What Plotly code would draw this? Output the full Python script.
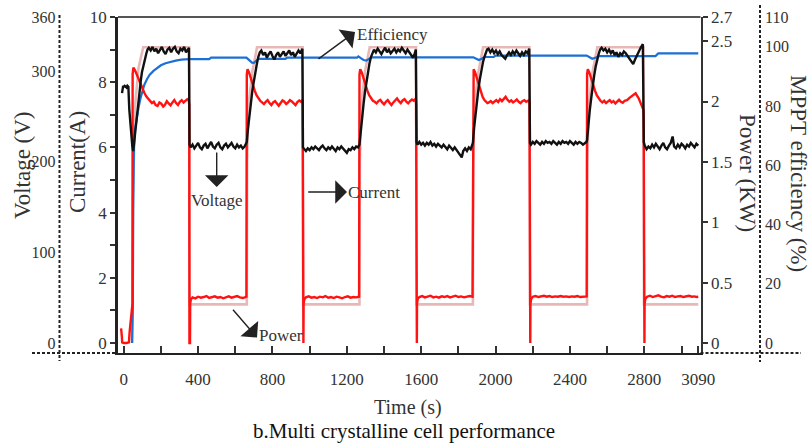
import plotly.graph_objects as go

# ---------------- data ----------------
# Time axis
x_tickvals = [0, 200, 400, 600, 800, 1000, 1200, 1400, 1600, 1800, 2000, 2200, 2400, 2600, 2800, 3000, 3090]
x_ticktext = ["0", "", "400", "", "800", "", "1200", "", "1600", "", "2000", "", "2400", "", "2800", "", "3090"]

# Voltage (V) - black
volt_t = [
    -9, -7, -3, 0, 5, 10, 15, 20, 25, 30, 38, 46, 51,
    56, 62, 68, 74, 80, 86, 92, 98, 104, 110, 116, 122, 128,
    135, 145, 155, 165, 175, 185, 195, 205, 215, 225, 235, 245, 255, 265, 275, 285, 295, 305, 315, 325, 335, 345, 351,
    354, 360, 370, 380, 390, 400, 410, 420, 430, 440, 450, 460, 470, 480, 490, 500, 510, 520, 530, 540, 550, 560, 570, 580, 590, 600, 610, 620, 630, 640, 650, 658, 662,
    668, 676, 684, 692, 700, 708, 716, 724, 732,
    740, 750, 760, 770, 780, 790, 800, 810, 820, 830, 840, 850, 860, 870, 880, 890, 900, 910, 920, 930, 940, 950, 961,
    964, 970, 980, 990, 1000, 1010, 1020, 1030, 1040, 1050, 1060, 1070, 1080, 1090, 1100, 1110, 1120, 1130, 1140, 1150, 1160, 1170, 1180, 1190, 1200, 1210, 1220, 1230, 1240, 1250, 1260, 1268,
    1274, 1282, 1290, 1298, 1306, 1314, 1322, 1330, 1338,
    1346, 1356, 1366, 1376, 1386, 1396, 1406, 1416, 1426, 1436, 1446, 1456, 1466, 1476, 1486, 1496, 1506, 1516, 1526, 1536, 1546, 1556, 1566, 1571,
    1575, 1580, 1590, 1600, 1610, 1620, 1630, 1640, 1650, 1660, 1670, 1680, 1690, 1700, 1710, 1720, 1730, 1740, 1750, 1760, 1770, 1780, 1790, 1800, 1810, 1818, 1826, 1836, 1846, 1856, 1866, 1874, 1878,
    1884, 1892, 1900, 1908, 1916, 1924, 1932, 1940, 1948, 1954,
    1962, 1972, 1982, 1992, 2002, 2012, 2022, 2032, 2042, 2052, 2062, 2072, 2082, 2092, 2102, 2112, 2122, 2132, 2142, 2152, 2162, 2172, 2181,
    2185, 2190, 2200, 2210, 2220, 2230, 2240, 2250, 2260, 2270, 2280, 2290, 2300, 2310, 2320, 2330, 2340, 2350, 2360, 2370, 2380, 2390, 2400, 2410, 2420, 2430, 2440, 2450, 2460, 2470, 2480, 2488, 2492,
    2498, 2506, 2514, 2522, 2530, 2538, 2546, 2554, 2562,
    2570, 2580, 2590, 2600, 2610, 2620, 2630, 2640, 2650, 2660, 2670, 2680, 2690, 2700, 2710, 2720, 2730, 2740, 2750, 2760, 2770, 2780, 2792,
    2797, 2802, 2812, 2822, 2832, 2842, 2852, 2862, 2872, 2882, 2892, 2902, 2912, 2922, 2932, 2942, 2952, 2960, 2970, 2980, 2990, 3000, 3010, 3020, 3030, 3040, 3050, 3060, 3070, 3080, 3090,
]
volt_v = [
    276, 284, 284, 283, 284, 283, 282, 284, 283, 258, 232, 218, 212,
    222, 238, 249, 262, 271, 283, 290, 299, 305, 311, 316, 320, 324,
    326, 323, 327, 322, 325, 320, 324, 327, 322, 319, 324, 326, 321, 325, 327, 322, 320, 325, 323, 327, 321, 325, 326,
    219, 216, 219, 215, 218, 221, 216, 214, 218, 220, 215, 218, 222, 217, 215, 219, 221, 216, 214, 218, 220, 216, 219, 221, 217, 215, 219, 216, 218, 215, 217, 220, 222,
    236, 252, 266, 279, 289, 300, 308, 316, 321,
    323, 318, 321, 315, 319, 322, 317, 313, 318, 321, 316, 319, 322, 317, 320, 323, 318, 321, 316, 320, 323, 320, 325,
    216, 214, 212, 215, 213, 216, 214, 217, 215, 213, 216, 218, 215, 213, 216, 214, 217, 215, 212, 216, 214, 217, 215, 212, 210, 214, 213, 216, 214, 217, 216, 219,
    234, 250, 264, 278, 290, 300, 309, 316, 321,
    324, 321, 325, 322, 319, 323, 326, 321, 324, 320, 323, 325, 321, 324, 322, 326, 323, 320, 324, 321, 317, 315, 320, 324,
    222, 219, 222, 219, 221, 218, 221, 219, 222, 218, 220, 217, 220, 218, 216, 219, 217, 214, 218, 215, 213, 216, 213, 210, 207, 205, 212, 215, 212, 216, 214, 218, 221,
    237, 253, 267, 281, 292, 302, 310, 316, 321, 324,
    325, 321, 324, 320, 323, 319, 322, 318, 316, 314, 318, 321, 318, 322, 319, 323, 320, 317, 321, 318, 322, 320, 325,
    221, 219, 222, 220, 223, 221, 219, 222, 220, 223, 221, 222, 220, 223, 221, 219, 222, 220, 223, 221, 222, 220, 223, 221, 219, 222, 220, 222, 221, 219, 221, 222, 224,
    240, 256, 270, 284, 295, 305, 313, 319, 324,
    326, 323, 325, 321, 324, 320, 323, 318, 321, 316, 320, 318, 322, 320, 317, 314, 311, 308, 313, 318, 322, 326, 330,
    222, 218, 214, 217, 215, 219, 216, 220, 217, 214, 218, 221, 216, 214, 218, 221, 228, 217, 215, 219, 216, 220, 218, 215, 219, 217, 221, 218, 216, 220, 218,
]

# Current (A) - red
curr_t = [
    -14, -12, -10, -8, 0, 15, 28, 32, 38, 44, 47, 48, 52, 62, 72, 82, 92, 102, 112, 122, 132, 142,
    152, 162, 172, 182, 192, 202, 212, 222, 232, 242, 252, 262, 272, 282, 292, 302, 312, 322, 332, 342, 350,
    352.5, 353.5, 356.5, 357.5, 361,
    370, 385, 400, 415, 430, 445, 460, 475, 490, 505, 520, 535, 550, 565, 580, 595, 610, 625, 640, 655, 660,
    662, 666, 674, 684, 694, 704, 714, 724, 734,
    744, 754, 764, 774, 784, 794, 804, 814, 824, 834, 844, 854, 864, 874, 884, 894, 904, 914, 924, 934, 944, 954, 961,
    962.5, 963.5, 966.5, 967.5, 971,
    980, 995, 1010, 1025, 1040, 1055, 1070, 1085, 1100, 1115, 1130, 1145, 1160, 1175, 1190, 1205, 1220, 1235, 1250, 1266,
    1268, 1272, 1280, 1290, 1300, 1310, 1320, 1330, 1340,
    1350, 1360, 1370, 1380, 1390, 1400, 1410, 1420, 1430, 1440, 1450, 1460, 1470, 1480, 1490, 1500, 1510, 1520, 1530, 1540, 1550, 1560, 1571,
    1572.5, 1573.5, 1576.5, 1577.5, 1581,
    1590, 1605, 1620, 1635, 1650, 1665, 1680, 1695, 1710, 1725, 1740, 1755, 1770, 1785, 1800, 1815, 1830, 1845, 1860, 1876,
    1878, 1882, 1890, 1900, 1910, 1920, 1930, 1940, 1950, 1956,
    1964, 1974, 1984, 1994, 2004, 2014, 2024, 2034, 2044, 2054, 2064, 2074, 2084, 2094, 2104, 2114, 2124, 2134, 2144, 2154, 2164, 2174, 2181,
    2182.5, 2183.5, 2186.5, 2187.5, 2191,
    2200, 2215, 2230, 2245, 2260, 2275, 2290, 2305, 2320, 2335, 2350, 2365, 2380, 2395, 2410, 2425, 2440, 2455, 2470, 2490,
    2492, 2496, 2504, 2514, 2524, 2534, 2544, 2554, 2564,
    2574, 2584, 2594, 2604, 2614, 2624, 2634, 2644, 2654, 2664, 2674, 2684, 2694, 2707, 2720, 2732, 2744, 2753, 2770, 2785, 2795,
    2796.5, 2797.5, 2800.5, 2801.5, 2805,
    2815, 2830, 2845, 2860, 2875, 2890, 2905, 2920, 2935, 2950, 2965, 2980, 2995, 3010, 3025, 3040, 3055, 3070, 3080, 3090,
]
curr_a = [
    0.45, 0.38, 0.2, 0.02, 0.0, 0.0, 0.02, 0.35, 0.7, 0.95, 1.2, 8.25, 8.45, 8.35, 8.2, 8.05, 7.9, 7.78, 7.66, 7.56, 7.5, 7.44,
    7.36, 7.4, 7.3, 7.27, 7.38, 7.34, 7.25, 7.31, 7.42, 7.35, 7.29, 7.38, 7.45, 7.36, 7.3, 7.4, 7.45, 7.38, 7.42, 7.48, 7.45,
    7.3, 0.0, 0.0, 1.2, 1.33,
    1.4, 1.37, 1.42, 1.39, 1.41, 1.44, 1.38, 1.4, 1.43, 1.39, 1.41, 1.37, 1.4, 1.43, 1.39, 1.41, 1.44, 1.4, 1.38, 1.41, 1.42,
    8.25, 8.4, 8.3, 8.1, 7.9, 7.75, 7.6, 7.5, 7.43,
    7.38, 7.33, 7.4, 7.45, 7.36, 7.3, 7.38, 7.42, 7.35, 7.28, 7.36, 7.44, 7.4, 7.33, 7.38, 7.45, 7.41, 7.35, 7.3, 7.39, 7.44, 7.4, 7.46,
    7.3, 0.0, 0.0, 1.2, 1.33,
    1.4, 1.43, 1.39, 1.41, 1.38, 1.42, 1.4, 1.44, 1.39, 1.41, 1.38, 1.42, 1.4, 1.37, 1.41, 1.43, 1.39, 1.41, 1.4, 1.42,
    8.25, 8.4, 8.3, 8.1, 7.9, 7.75, 7.6, 7.5, 7.43,
    7.4, 7.35, 7.42, 7.46, 7.38, 7.32, 7.4, 7.45, 7.37, 7.3, 7.38, 7.44, 7.5, 7.42, 7.36, 7.44, 7.48, 7.4, 7.35, 7.42, 7.47, 7.43, 7.5,
    7.3, 0.0, 0.0, 1.2, 1.35,
    1.41, 1.44, 1.4, 1.42, 1.45, 1.4, 1.42, 1.39, 1.43, 1.41, 1.44, 1.4, 1.42, 1.45, 1.41, 1.43, 1.4, 1.42, 1.44, 1.42,
    8.25, 8.4, 8.3, 8.1, 7.9, 7.72, 7.55, 7.45, 7.38, 7.36,
    7.38, 7.42, 7.36, 7.4, 7.45, 7.39, 7.48, 7.42, 7.5, 7.55, 7.46, 7.4, 7.44, 7.38, 7.42, 7.47, 7.4, 7.36, 7.42, 7.45, 7.4, 7.43, 7.45,
    7.3, 0.0, 0.0, 1.2, 1.35,
    1.42, 1.44, 1.41, 1.43, 1.45, 1.42, 1.44, 1.41, 1.43, 1.42, 1.44, 1.42, 1.43, 1.41, 1.43, 1.42, 1.44, 1.41, 1.42, 1.43,
    8.25, 8.4, 8.3, 8.1, 7.9, 7.75, 7.6, 7.5, 7.43,
    7.38, 7.43, 7.36, 7.4, 7.45, 7.38, 7.42, 7.35, 7.4, 7.46, 7.4, 7.37, 7.43, 7.45, 7.52, 7.58, 7.63, 7.66, 7.5, 7.3, 7.15,
    7.0, 0.0, 0.0, 1.2, 1.35,
    1.42, 1.45, 1.41, 1.43, 1.46, 1.42, 1.4, 1.44, 1.42, 1.45, 1.41, 1.43, 1.44, 1.41, 1.43, 1.45, 1.42, 1.43, 1.41, 1.42,
]

# Power (KW) - light red
pow_t = [45, 48, 50, 56, 61, 80, 105, 352, 355,
         662, 664, 670, 692, 717, 962, 965,
         1268, 1270, 1276, 1298, 1323, 1572, 1575,
         1878, 1880, 1886, 1908, 1933, 2182, 2185,
         2492, 2494, 2500, 2522, 2547, 2795, 2798, 3090]
pow_kw = [0.0, 0.3, 1.2, 1.65, 1.96, 2.28, 2.45, 2.45, 0.32,
          0.32, 1.5, 1.95, 2.25, 2.45, 2.45, 0.32,
          0.32, 1.5, 1.95, 2.25, 2.45, 2.45, 0.32,
          0.32, 1.5, 1.95, 2.25, 2.45, 2.45, 0.32,
          0.32, 1.5, 1.95, 2.25, 2.45, 2.45, 0.32, 0.32]

# MPPT efficiency (%) - blue
eff_t = [45, 47, 49, 51, 55, 61, 70, 80, 90, 100, 110, 125, 140, 160, 180, 200, 225, 250, 280, 310, 350, 460, 470,
         660, 675, 690, 700, 712, 725, 870, 880,
         1255, 1262, 1275, 1290, 1305, 1320, 1335,
         1880, 1895, 1910, 1925, 1940, 1990, 2000,
         2490, 2505, 2520, 2540, 2555, 2860, 2875, 3090]
eff_pct = [0, 5, 12, 45, 66, 72, 76, 79.5, 82.5, 85, 87, 89, 90.5, 91.8, 92.9, 93.7, 94.4, 94.9, 95.3, 95.6, 95.8, 95.8, 96.3,
           96.3, 95.5, 94.6, 94.5, 95.2, 95.9, 95.9, 96.3,
           96.3, 96.7, 96.1, 95.5, 95.3, 95.8, 96.4,
           96.4, 95.9, 95.5, 95.9, 96.5, 96.5, 97.0,
           97.0, 96.3, 95.9, 96.3, 96.8, 96.8, 97.7, 97.7]

# Axis ticks
volt_ticks = [0, 100, 200, 300, 360]
curr_ticks = [0, 1, 2, 3, 4, 5, 6, 7, 8, 9, 10]
curr_text = ["0", "", "2", "", "4", "", "6", "", "8", "", "10"]
pow_ticks = [0, 0.5, 1, 1.5, 2, 2.5, 2.7]
pow_text = ["0", "0.5", "1", "1.5", "2", "2.5", "2.7"]
eff_ticks = [0, 20, 40, 60, 80, 100, 110]

assert len(volt_t) == len(volt_v)
assert len(curr_t) == len(curr_a)
assert len(pow_t) == len(pow_kw)
assert len(eff_t) == len(eff_pct)

# ---------------- layout geometry (pixels) ----------------
W, H = 811, 445
FONT = "Liberation Serif, Times New Roman, serif"
TXT = "#333333"


def fx(p):
    return p / W


def fy(p):
    return 1 - p / H


X_L, X_R = 118, 700.5
Y_T, Y_B = 17, 353
DOM_X = [fx(X_L), fx(X_R)]
DOM_Y = [fy(Y_B), fy(Y_T)]

fig = go.Figure()
fig.add_trace(go.Scatter(x=pow_t, y=pow_kw, yaxis="y", mode="lines",
                         line=dict(color="rgba(226,165,165,0.8)", width=2.6), hoverinfo="skip"))
fig.add_trace(go.Scatter(x=eff_t, y=eff_pct, yaxis="y2", mode="lines",
                         line=dict(color="#1c6fd4", width=2.2), hoverinfo="skip"))
fig.add_trace(go.Scatter(x=curr_t, y=curr_a, yaxis="y3", mode="lines",
                         line=dict(color="#ff1212", width=2.4), hoverinfo="skip"))
fig.add_trace(go.Scatter(x=volt_t, y=volt_v, yaxis="y4", mode="lines",
                         line=dict(color="#111111", width=2.4), hoverinfo="skip"))

tickfont = dict(family=FONT, size=17, color=TXT)
tickfont_s = dict(family=FONT, size=16, color=TXT)

fig.update_layout(
    template="none",
    width=W, height=H,
    margin=dict(l=0, r=0, t=0, b=0, autoexpand=False),
    paper_bgcolor="white", plot_bgcolor="white",
    showlegend=False,
    font=dict(family=FONT, color=TXT),
    xaxis=dict(domain=DOM_X, range=[-30.7, 3102], tickmode="array",
               tickvals=x_tickvals, ticktext=x_ticktext, ticks="inside", ticklen=7,
               tickwidth=1.5, tickcolor="#333", showline=True, linecolor="#222",
               linewidth=2.2, showgrid=False, zeroline=False, tickfont=tickfont,
               ticklabelstandoff=9, automargin=False, anchor="y"),
    yaxis=dict(domain=DOM_Y, range=[-0.0828, 2.7], side="right", anchor="x",
               tickmode="array", tickvals=pow_ticks, ticktext=pow_text,
               ticks="outside", ticklen=5, tickwidth=1.5, tickcolor="#333",
               showline=True, linecolor="#333", linewidth=2, showgrid=False,
               zeroline=False, tickfont=tickfont, automargin=False),
    yaxis2=dict(domain=DOM_Y, range=[-3.374, 110], overlaying="y", anchor="free",
                position=fx(760), side="right", tickmode="array", tickvals=eff_ticks,
                ticks="", showline=False, showgrid=False, zeroline=False,
                tickfont=tickfont_s, ticklabelstandoff=4, automargin=False),
    yaxis3=dict(domain=DOM_Y, range=[-0.307, 10], overlaying="y", anchor="x",
                side="left", tickmode="array", tickvals=curr_ticks, ticktext=curr_text,
                ticks="outside", ticklen=5, tickwidth=1.5, tickcolor="#333",
                showline=True, linecolor="#222", linewidth=2.5, showgrid=False,
                zeroline=False, tickfont=tickfont, automargin=False),
    yaxis4=dict(domain=DOM_Y, range=[-11.04, 360], overlaying="y", anchor="free",
                position=fx(59.5), side="left", tickmode="array", tickvals=volt_ticks,
                ticks="", showline=False, showgrid=False, zeroline=False,
                tickfont=tickfont_s, ticklabelstandoff=4, automargin=False),
)

dash = "3px,2px"
shapes = [
    # top frame line
    dict(type="line", xref="paper", yref="paper", x0=fx(X_L), x1=fx(X_R), y0=fy(Y_T), y1=fy(Y_T),
         line=dict(color="#555", width=2)),
    # voltage dashed axis
    dict(type="line", xref="paper", yref="paper", x0=fx(59.5), x1=fx(59.5), y0=fy(15), y1=fy(361),
         line=dict(color="#222", width=2, dash=dash)),
    # efficiency dashed axis
    dict(type="line", xref="paper", yref="paper", x0=fx(760), x1=fx(760), y0=fy(5), y1=fy(362),
         line=dict(color="#222", width=2, dash=dash)),
    # dashed baseline extensions
    dict(type="line", xref="paper", yref="paper", x0=fx(32), x1=fx(X_L), y0=fy(Y_B), y1=fy(Y_B),
         line=dict(color="#222", width=2, dash=dash)),
    dict(type="line", xref="paper", yref="paper", x0=fx(X_R), x1=fx(801), y0=fy(Y_B), y1=fy(Y_B),
         line=dict(color="#222", width=2, dash=dash)),
]
fig.update_layout(shapes=shapes)

ann = []


def label(text, x, y, size, angle=0, color=TXT):
    ann.append(dict(text=text, x=fx(x), y=fy(y), xref="paper", yref="paper",
                    xanchor="center", yanchor="middle", showarrow=False, textangle=angle,
                    font=dict(family=FONT, size=size, color=color)))


def arrow(hx, hy, tx, ty):
    ann.append(dict(text="", x=fx(hx), y=fy(hy), xref="paper", yref="paper",
                    ax=tx - hx, ay=ty - hy, axref="pixel", ayref="pixel",
                    showarrow=True, arrowhead=1, arrowsize=2.8, arrowwidth=1.4,
                    arrowcolor="#222", standoff=0, startstandoff=0))


label("Voltage (V)", 22, 165, 23, -90)
label("Current(A)", 78, 162, 23, -90)
label("Power (KW)", 748, 173, 23, 90)
label("MPPT efficiency (%)", 799, 173, 23, 90)
label("Time (s)", 408, 407, 20)
label("b.Multi crystalline cell performance", 404, 431, 21, 0, "#111")
label("Efficiency", 392, 35, 17)
label("Voltage", 217, 200, 17)
label("Current", 374, 192, 17)
label("Power", 281, 335, 17)
arrow(355, 32, 317, 60)
arrow(216.7, 187, 216.7, 151)
arrow(347, 192, 306.7, 192)
arrow(257, 337.5, 231.7, 308.3)
fig.update_layout(annotations=ann)

fig.write_html("out.html")
